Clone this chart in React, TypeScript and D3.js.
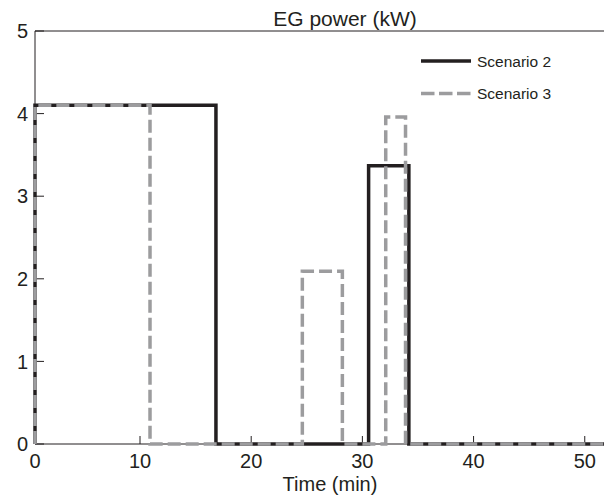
import React from 'react';
import * as d3 from 'd3';

// step change points: [time (min), power (kW)]
const scenario2Times = [0, 0, 16.83, 30.56, 34.18, 51.73];
const scenario2Power = [0, 4.1, 0, 3.37, 0, 0];
const scenario3Times = [0, 0, 10.9, 24.6, 28.2, 32.1, 33.88, 51.73];
const scenario3Power = [0, 4.1, 0, 2.09, 0, 3.96, 0, 0];
const xTicks = [0, 10, 20, 30, 40, 50];
const yTicks = [0, 1, 2, 3, 4, 5];
const legendLabels = ['Scenario 2', 'Scenario 3'];

const width = 604;
const height = 497;
const margin = { top: 31, right: 0, bottom: 53, left: 35 };
const font = '"Liberation Sans", Arial, sans-serif';

function App() {
  const innerW = width - margin.left - margin.right;
  const innerH = height - margin.top - margin.bottom;
  // the scanned axis is slightly stretched between 0 and 10
  const x = d3.scaleLinear().domain([0, 10, 51.73]).range([0, 105, innerW]);
  const y = d3.scaleLinear().domain([0, 5]).range([innerH, 0]);

  const line = d3
    .line<[number, number]>()
    .x((d) => x(d[0]))
    .y((d) => y(d[1]))
    .curve(d3.curveStepAfter);

  const s2 = scenario2Times.map((t, i) => [t, scenario2Power[i]] as [number, number]);
  const s3 = scenario3Times.map((t, i) => [t, scenario3Power[i]] as [number, number]);

  const black = '#231f20';
  const gray = '#9c9c9e';

  return (
    <svg width={width} height={height} style={{ position: 'absolute', left: 0, top: 0 }} fontFamily={font}>
      <g transform={`translate(${margin.left},${margin.top})`}>
        <line x1={0} x2={innerW} y1={0} y2={0} stroke={black} strokeWidth={1} />
        <line x1={0} x2={0} y1={0} y2={innerH} stroke={black} strokeWidth={1} />
        <line x1={0} x2={innerW} y1={innerH} y2={innerH} stroke={black} strokeWidth={1} />
        {yTicks.map((t) => (
          <g key={'y' + t}>
            <line x1={0} x2={9} y1={y(t)} y2={y(t)} stroke={black} />
            <text x={-7} y={y(t)} dy="0.36em" textAnchor="end" fontSize={20} fill={black}>{t}</text>
          </g>
        ))}
        {xTicks.map((t) => (
          <g key={'x' + t}>
            <line x1={x(t)} x2={x(t)} y1={innerH} y2={innerH - 8} stroke={black} />
            <text x={x(t)} y={innerH + 24} textAnchor="middle" fontSize={20} fill={black}>{t}</text>
          </g>
        ))}
        <path d={line(s2) || ''} fill="none" stroke={black} strokeWidth={3.5} />
        <path d={line(s3) || ''} fill="none" stroke={gray} strokeWidth={3.5} strokeDasharray="13,5" />
        <g transform="translate(386,30)">
          <line x1={0} x2={50} y1={0} y2={0} stroke={black} strokeWidth={3.5} />
          <text x={56} y={0} dy="0.36em" fontSize={15.5} fill={black}>{legendLabels[0]}</text>
          <line x1={0} x2={50} y1={32.5} y2={32.5} stroke={gray} strokeWidth={3.5} strokeDasharray="13.5,4.5" />
          <text x={56} y={32.5} dy="0.36em" fontSize={15.5} fill={black}>{legendLabels[1]}</text>
        </g>
      </g>
      <text x={345} y={26} textAnchor="middle" fontSize={21} fill={black}>EG power (kW)</text>
      <text x={330} y={491} textAnchor="middle" fontSize={20} fill={black}>Time (min)</text>
    </svg>
  );
}

export default App;
